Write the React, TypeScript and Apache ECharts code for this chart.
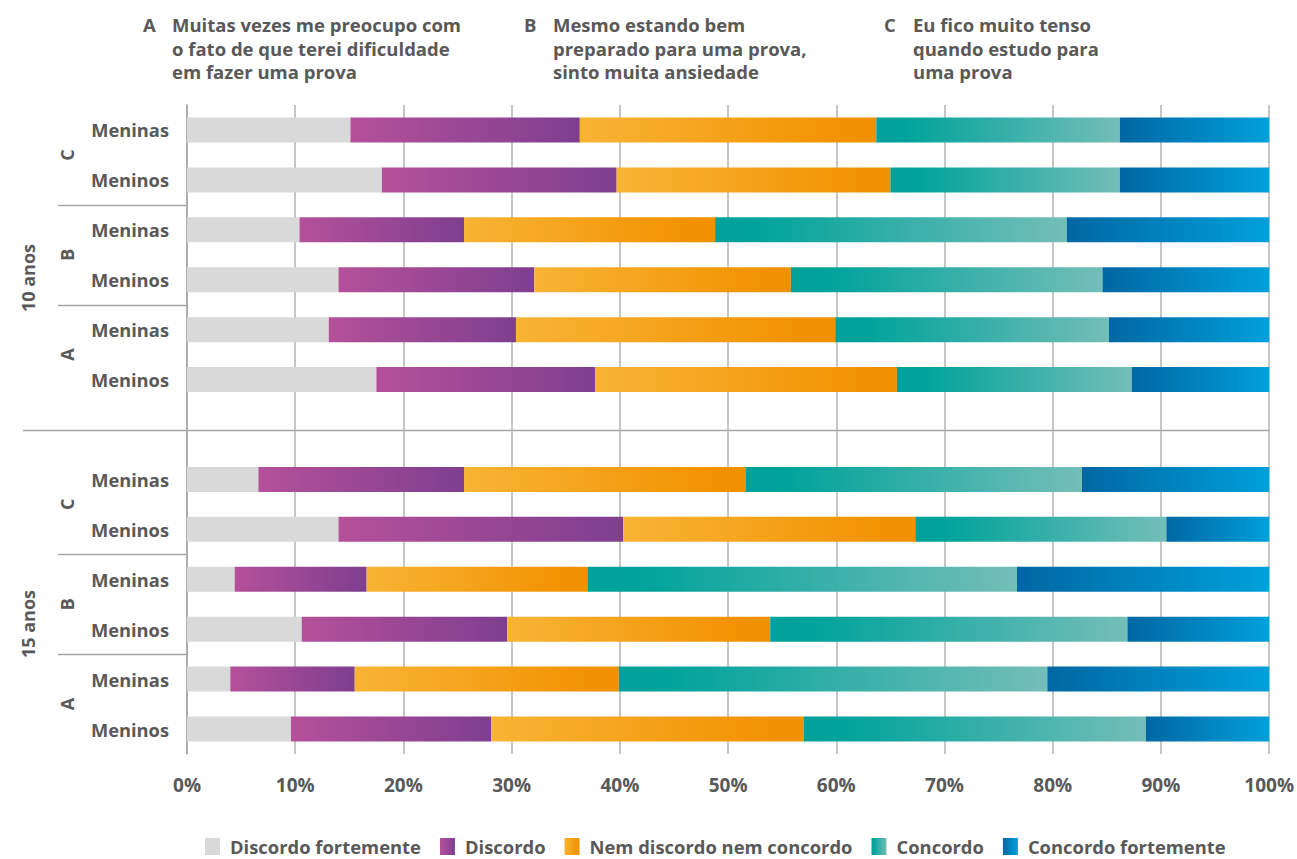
import React, { useEffect, useRef } from 'react';
import * as echarts from 'echarts';

// ---- Data ----
const categories = [
  'Meninas', 'Meninos', 'Meninas', 'Meninos', 'Meninas', 'Meninos',
  '',
  'Meninas', 'Meninos', 'Meninas', 'Meninos', 'Meninas', 'Meninos',
];
const seriesNames = [
  'Discordo fortemente',
  'Discordo',
  'Nem discordo nem concordo',
  'Concordo',
  'Concordo fortemente',
];
const discordoFortemente = [15.1, 18.0, 10.4, 14.0, 13.1, 17.5, null, 6.6, 14.0, 4.4, 10.6, 4.0, 9.6];
const discordo = [21.2, 21.7, 15.2, 18.1, 17.3, 20.2, null, 19.0, 26.3, 12.2, 19.0, 11.5, 18.5];
const nemDiscordoNemConcordo = [27.4, 25.3, 23.2, 23.7, 29.5, 27.9, null, 26.0, 27.0, 20.4, 24.3, 24.4, 28.9];
const concordo = [22.5, 21.2, 32.5, 28.8, 25.3, 21.7, null, 31.1, 23.2, 39.7, 33.0, 39.6, 31.6];
const concordoFortemente = [13.8, 13.8, 18.7, 15.4, 14.8, 12.7, null, 17.3, 9.5, 23.3, 13.1, 20.5, 11.4];

const groupLetters = ['C', 'B', 'A'];
const ageLabels = ['10 anos', '15 anos'];
const questionLetters = ['A', 'B', 'C'];
const questionLines = [
  ['Muitas vezes me preocupo com', 'o fato de que terei dificuldade', 'em fazer uma prova'],
  ['Mesmo estando bem', 'preparado para uma prova,', 'sinto muita ansiedade'],
  ['Eu fico muito tenso', 'quando estudo para', 'uma prova'],
];

// ---- Styling ----
const FONT = '"Open Sans", "Noto Sans", sans-serif';
const TEXT = '#595959';
const LINE = '#A6A6A6';
const W = 1297;
const H = 859;
const G_LEFT = 187;
const G_RIGHT = 1270;
const G_TOP = 105;
const G_BOTTOM = 754;
const FS = 18;
const LEGEND_FS = 18.4;

const grad = (stops: [number, string][]) =>
  new echarts.graphic.LinearGradient(0, 0, 1, 0, stops.map(([offset, color]) => ({ offset, color })));

const seriesColors = [
  '#D9D9D9',
  grad([[0, '#B5509A'], [1, '#7E3F8F']]),
  grad([[0, '#F8B435'], [0.92, '#F29100'], [1, '#F29100']]),
  grad([[0, '#00A19A'], [0.12, '#00A39B'], [1, '#74BEB8']]),
  grad([[0, '#0067A3'], [1, '#00A0DB']]),
];
const seriesData = [discordoFortemente, discordo, nemDiscordoNemConcordo, concordo, concordoFortemente];

export default function App() {
  const ref = useRef<HTMLDivElement>(null);

  useEffect(() => {
    if (!ref.current) return;
    const chart = echarts.init(ref.current, null, { renderer: 'svg' });
    const band = (G_BOTTOM - G_TOP) / categories.length;
    const font = `bold ${FS}px ${FONT}`;
    const titleFont = `bold 18.5px ${FONT}`;

    const graphics: any[] = [];
    // question titles
    const qLetterX = [143, 524, 884];
    const qTextX = [172, 553, 913];
    questionLetters.forEach((letter, i) => {
      graphics.push({
        type: 'text', left: qLetterX[i], top: 13,
        style: { text: letter, font: titleFont, fill: TEXT, lineHeight: 23.5 },
      });
      graphics.push({
        type: 'text', left: qTextX[i], top: 13,
        style: { text: questionLines[i].join('\n'), font: titleFont, fill: TEXT, lineHeight: 23.5 },
      });
    });
    // group letters
    for (let age = 0; age < 2; age++) {
      groupLetters.forEach((g, j) => {
        const idx = age * 7 + j * 2 + 1;
        graphics.push({
          type: 'text', x: 67, y: G_TOP + idx * band, rotation: Math.PI / 2,
          style: { text: g, font, fill: TEXT, align: 'center', verticalAlign: 'middle' },
        });
      });
      // separators between groups
      [2, 4].forEach((k) => {
        const y = Math.round(G_TOP + (age * 7 + k) * band) + 0.5;
        graphics.push({
          type: 'line', shape: { x1: 58, y1: y, x2: G_LEFT, y2: y },
          style: { stroke: LINE, lineWidth: 1.5 },
        });
      });
    }
    const ageY = [278, 624];
    ageLabels.forEach((a, i) => {
      graphics.push({
        type: 'text', x: 28, y: ageY[i], rotation: Math.PI / 2,
        style: { text: a, font, fill: TEXT, align: 'center', verticalAlign: 'middle' },
      });
    });
    const ySep = Math.round(G_TOP + 6.5 * band) + 0.5;
    graphics.push({
      type: 'line', shape: { x1: 23, y1: ySep, x2: G_RIGHT, y2: ySep },
      style: { stroke: LINE, lineWidth: 1.5 },
    });

    chart.setOption({
      animation: false,
      textStyle: { fontFamily: FONT },
      grid: { left: G_LEFT, right: W - G_RIGHT, top: G_TOP, bottom: H - G_BOTTOM, containLabel: false },
      legend: {
        left: 205, top: 837, padding: 0,
        itemWidth: 15, itemHeight: 17, itemGap: 19,
        icon: 'rect',
        formatter: (name: string) => `{g|}{t|${name}}`,
        textStyle: {
          color: TEXT, fontSize: LEGEND_FS, fontWeight: 'bold', fontFamily: FONT, lineHeight: 19,
          rich: {
            g: { width: 5, lineHeight: 19 },
            t: { color: TEXT, fontSize: LEGEND_FS, fontWeight: 'bold', fontFamily: FONT, lineHeight: 19 },
          },
        },
        data: seriesNames,
      },
      xAxis: {
        type: 'value', min: 0, max: 100, interval: 10,
        axisLabel: { formatter: '{value}%', color: TEXT, fontSize: 19, fontWeight: 'bold', margin: 21, fontFamily: FONT },
        axisLine: { show: false },
        axisTick: { show: false },
        splitLine: { show: true, lineStyle: { color: '#B3B3B3', width: 1.5 } },
      },
      yAxis: {
        type: 'category', data: categories, inverse: true,
        axisLine: { show: true, lineStyle: { color: LINE, width: 1.5 } },
        axisTick: { show: false },
        axisLabel: { color: TEXT, fontSize: 18.3, fontWeight: 'bold', margin: 18, fontFamily: FONT },
      },
      series: seriesNames.map((name, i) => ({
        name, type: 'bar', stack: 'total', barWidth: 25,
        itemStyle: { color: seriesColors[i] },
        emphasis: { disabled: true },
        data: seriesData[i],
      })),
      graphic: graphics,
    });
    return () => chart.dispose();
  }, []);

  return (
    <div
      ref={ref}
      style={{ position: 'fixed', left: 0, top: 0, width: W, height: H, background: '#fff' }}
    />
  );
}
